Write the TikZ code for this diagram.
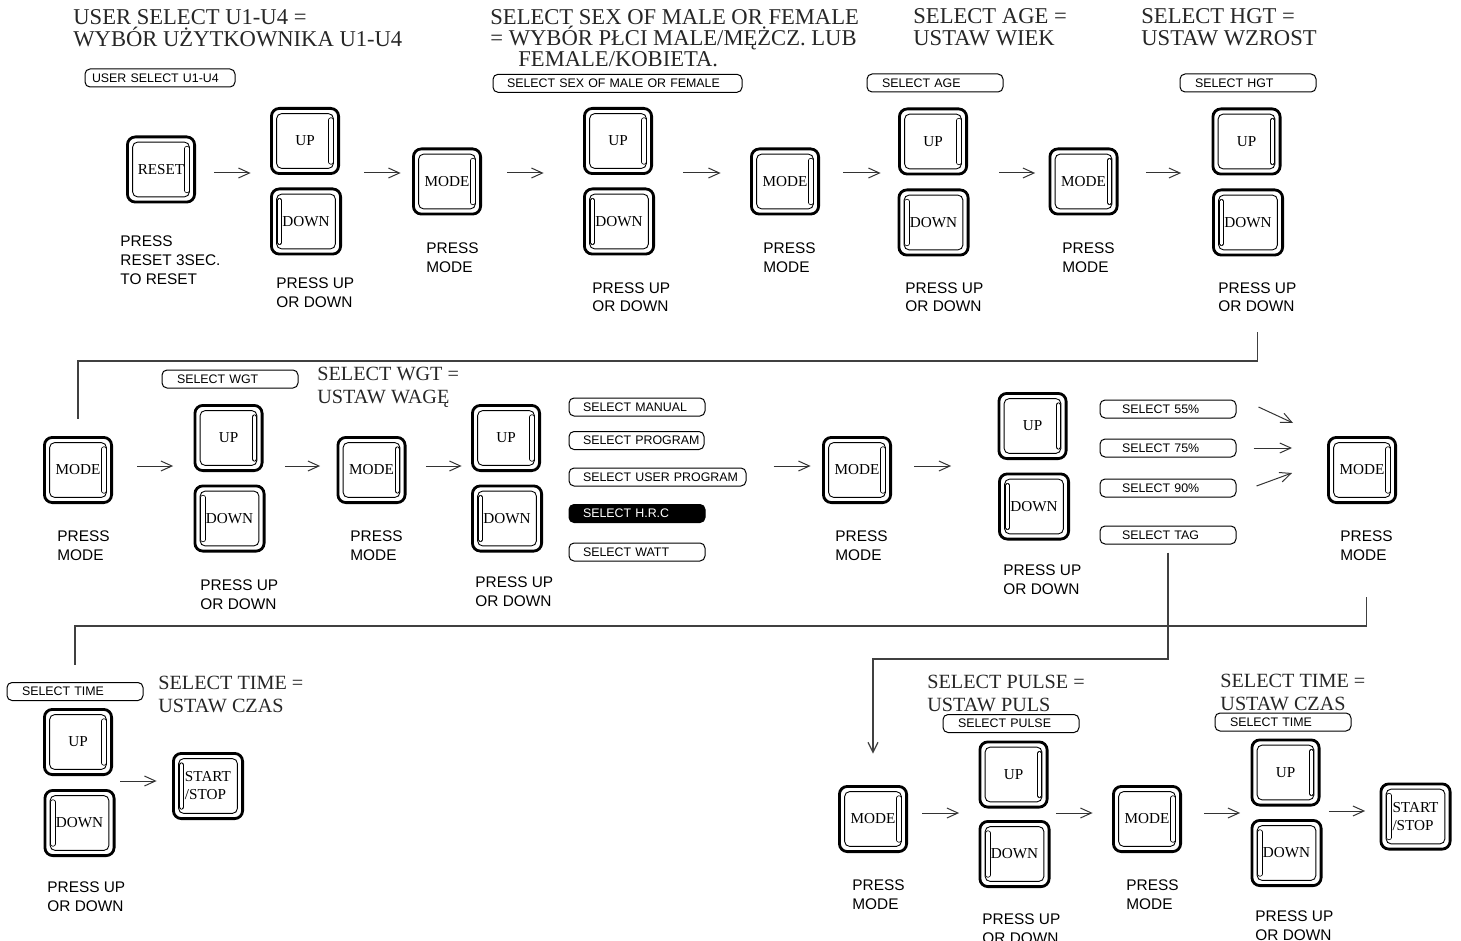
\documentclass[tikz,border=0pt]{standalone}
\usepackage{fontspec}
\setmainfont{Liberation Serif}
\setsansfont{Liberation Sans}
\usetikzlibrary{arrows.meta}
\newcommand{\titlefont}{\rmfamily\fontsize{11.3}{11}\selectfont}
\newcommand{\subtitlefont}{\rmfamily\fontsize{10.1}{11.5}\selectfont}
\newcommand{\notefont}{\sffamily\fontsize{7.7}{9.2}\selectfont}
\newcommand{\tagfont}{\sffamily\fontsize{6.2}{7}\selectfont}
\newcommand{\keyfont}{\rmfamily\fontsize{7.6}{9}\selectfont}
\newcommand{\keyframe}{\draw[line width=.45pt,rounded corners=2.5pt] ([shift={(2.6pt,2.6pt)}]path picture bounding box.south west) rectangle ([shift={(-2.6pt,-2.6pt)}]path picture bounding box.north east);}
\newcommand{\keyslot}[1]{\draw[line width=.4pt,double distance=1.8pt,line cap=round] ([shift={(#1,-10.5pt)}]path picture bounding box.center) -- ([shift={(#1,10.5pt)}]path picture bounding box.center);}
\begin{document}
\begin{tikzpicture}[x=.5pt,y=-.5pt]
      \tikzstyle{key}=[draw,line width=1.4pt,rounded corners=4pt,minimum width=33.6pt,minimum height=32.6pt,inner sep=0pt,align=center,font=\keyfont]
      \tikzstyle{keyR}=[key,path picture={\keyframe\keyslot{13pt}}]
      \tikzstyle{keyL}=[key,minimum width=34.6pt,path picture={\keyframe\keyslot{-13.25pt}}]
      \tikzstyle{tag}=[draw,line width=.5pt,rounded corners=2.5pt,minimum height=9pt,inner ysep=0pt,inner xsep=7.5pt,text width=53pt,align=left,font=\tagfont,execute at begin node=\hbox\bgroup,execute at end node=\egroup]
      \tikzstyle{head}=[anchor=base west,inner sep=0pt,align=left,font=\titlefont,text=black!85]
      \tikzstyle{subhead}=[head,font=\subtitlefont]
      \tikzstyle{note}=[anchor=base west,inner sep=0pt,align=left,font=\notefont]
      \tikzstyle{arr}=[draw=black!80,line width=.5pt,-{Straight Barb[length=5.5pt,width=5pt]}]
      \tikzstyle{link}=[draw=black!75,line width=.6pt]
      \useasboundingbox (0,0) rectangle (1461,941);
      \coordinate (ya) at (0,173);
      \coordinate (yb) at (0,466);
      \coordinate (yc) at (0,781);
      \coordinate (yd) at (0,813);
      \coordinate (ye) at (0,811);
      \node[head] (t1) at (73,47) {USER SELECT U1-U4 =\\WYBÓR UŻYTKOWNIKA U1-U4};
      \node[head,font=\rmfamily\fontsize{11.3}{10.7}\selectfont] (t2) at (490,67) {SELECT SEX OF MALE OR FEMALE\\= WYBÓR PŁCI MALE/MĘŻCZ. LUB\\\hspace*{14pt}FEMALE/KOBIETA.};
      \node[head] (t3) at (913,46) {SELECT AGE =\\USTAW WIEK};
      \node[head] (t4) at (1141,46) {SELECT HGT =\\USTAW WZROST};
      \node[subhead] (t5) at (317,403) {SELECT WGT =\\USTAW WAGĘ};
      \node[subhead] (t6) at (158,712) {SELECT TIME =\\USTAW CZAS};
      \node[subhead] (t7) at (927,711) {SELECT PULSE =\\USTAW PULS};
      \node[subhead] (t8) at (1220,710) {SELECT TIME =\\USTAW CZAS};
      \node[tag,text width=68pt,inner xsep=3.5pt] (su) at (160,78) {USER SELECT U1-U4};
      \node[tag,text width=110.5pt,inner xsep=7pt] (ss) at (617.5,83.3) {SELECT SEX OF MALE OR FEMALE};
      \node[tag] (sa) at (935,83) {SELECT AGE};
      \node[tag] (sh) at (1248,83) {SELECT HGT};
      \node[tag] (sw) at (230,379) {SELECT WGT};
      \node[tag,inner xsep=7pt,text width=54pt] (sman) at (637,407) {SELECT MANUAL};
      \node[tag,inner xsep=7pt,text width=53.5pt] (sprg) at (636.5,440.5) {SELECT PROGRAM};
      \node[tag,inner xsep=7pt,text width=74.5pt] (susr) at (657.5,477) {SELECT USER PROGRAM};
      \node[tag,inner xsep=7pt,text width=54pt,fill=black,text=white] (shrc) at (637,513.5) {SELECT H.R.C};
      \node[tag,inner xsep=7pt,text width=54pt] (swat) at (637,552) {SELECT WATT};
      \node[tag,inner xsep=11pt,text width=46pt] (s55) at (1168,409) {SELECT 55\%};
      \node[tag,inner xsep=11pt,text width=46pt] (s75) at (1168,448) {SELECT 75\%};
      \node[tag,inner xsep=11pt,text width=46pt] (s90) at (1168,488) {SELECT 90\%};
      \node[tag,inner xsep=11pt,text width=46pt] (stag) at (1168,535) {SELECT TAG};
      \node[tag] (stf) at (75,691.5) {SELECT TIME};
      \node[tag] (spl) at (1011,723.5) {SELECT PULSE};
      \node[tag] (sth) at (1283,722) {SELECT TIME};
      \node[keyR] (rs) at (161,169.5) {RESET};
      \node[keyR] (u1) at (305,141) {UP};
      \node[keyL] (d1) at (306,221.5) {DOWN};
      \node[keyR] (m1) at (447,181.5) {MODE};
      \node[keyR] (u2) at (618,141) {UP};
      \node[keyL] (d2) at (619,221.5) {DOWN};
      \node[keyR] (m2) at (785,181.5) {MODE};
      \node[keyR] (u3) at (933,141.5) {UP};
      \node[keyL] (d3) at (933.5,222.5) {DOWN};
      \node[keyR] (m3) at (1083.5,181.5) {MODE};
      \node[keyR] (u4) at (1246.5,141.5) {UP};
      \node[keyL] (d4) at (1248,222.5) {DOWN};
      \node[keyR] (ma) at (78,470) {MODE};
      \node[keyR] (ua) at (228.5,438) {UP};
      \node[keyL] (da) at (229.5,518.5) {DOWN};
      \node[keyR] (mb) at (371.5,470) {MODE};
      \node[keyR] (ub) at (506,438) {UP};
      \node[keyL] (db) at (507,518.5) {DOWN};
      \node[keyR] (mc) at (857,470) {MODE};
      \node[keyR] (ud) at (1032.5,426) {UP};
      \node[keyL] (dd) at (1034,506.5) {DOWN};
      \node[keyR] (me) at (1362,470) {MODE};
      \node[keyR] (uf) at (78,742) {UP};
      \node[keyL] (df) at (79.5,823) {DOWN};
      \node[keyL,align=left] (gof) at (208,786) {START\\/STOP};
      \node[keyR] (mg) at (873,819) {MODE};
      \node[keyR] (ug) at (1013.5,774.5) {UP};
      \node[keyL] (dg) at (1014.5,854) {DOWN};
      \node[keyR] (mh) at (1147,819) {MODE};
      \node[keyR] (uh) at (1285.5,772.5) {UP};
      \node[keyL] (dh) at (1286.5,853) {DOWN};
      \node[keyL,align=left] (goh) at (1415.5,816.5) {START\\/STOP};
      \node[note,font=\sffamily\fontsize{7.7}{9.5}\selectfont] (prs) at (120,285) {PRESS\\RESET 3SEC.\\TO RESET};
      \node[note] (p1) at (276,307) {PRESS UP\\OR DOWN};
      \node[note] (pm1) at (426,272) {PRESS\\MODE};
      \node[note] (p2) at (592,312) {PRESS UP\\OR DOWN};
      \node[note] (pm2) at (763,272) {PRESS\\MODE};
      \node[note] (p3) at (905,312) {PRESS UP\\OR DOWN};
      \node[note] (pm3) at (1062,272) {PRESS\\MODE};
      \node[note] (p4) at (1218,312) {PRESS UP\\OR DOWN};
      \node[note] (pma) at (57,560) {PRESS\\MODE};
      \node[note] (pa) at (200,609) {PRESS UP\\OR DOWN};
      \node[note] (pmb) at (350,560) {PRESS\\MODE};
      \node[note] (pb) at (475,606) {PRESS UP\\OR DOWN};
      \node[note] (pmc) at (835,560) {PRESS\\MODE};
      \node[note] (pd) at (1003,594) {PRESS UP\\OR DOWN};
      \node[note] (pme) at (1340,560) {PRESS\\MODE};
      \node[note] (pf) at (47,911) {PRESS UP\\OR DOWN};
      \node[note] (pmg) at (852,909) {PRESS\\MODE};
      \node[note] (pg) at (982,943) {PRESS UP\\OR DOWN};
      \node[note] (pmh) at (1126,909) {PRESS\\MODE};
      \node[note] (ph) at (1255,940) {PRESS UP\\OR DOWN};
      \draw[arr,shorten <=9.2pt,shorten >=9.7pt] (rs.east |- ya) -- (u1.west |- ya);
      \draw[arr,shorten <=12.2pt,shorten >=5.7pt] (u1.east |- ya) -- (m1.west |- ya);
      \draw[arr,shorten <=12.7pt,shorten >=19.7pt] (m1.east |- ya) -- (u2.west |- ya);
      \draw[arr,shorten <=15.2pt,shorten >=14.7pt] (u2.east |- ya) -- (m2.west |- ya);
      \draw[arr,shorten <=11.7pt,shorten >=8.7pt] (m2.east |- ya) -- (u3.west |- ya);
      \draw[arr,shorten <=15.7pt,shorten >=6.7pt] (u3.east |- ya) -- (m3.west |- ya);
      \draw[arr,shorten <=13.7pt,shorten >=15.2pt] (m3.east |- ya) -- (u4.west |- ya);
      \draw[arr,shorten <=12.2pt,shorten >=10.2pt] (ma.east |- yb) -- (ua.west |- yb);
      \draw[arr,shorten <=10.7pt,shorten >=8.2pt] (ua.east |- yb) -- (mb.west |- yb);
      \draw[arr,shorten <=9.7pt,shorten >=4.7pt] (mb.east |- yb) -- (ub.west |- yb);
      \draw[arr,shorten <=13.5pt,shorten >=5.7pt] (susr.east |- yb) -- (mc.west |- yb);
      \draw[arr,shorten <=11.2pt,shorten >=23.2pt] (mc.east |- yb) -- (ud.west |- yb);
      \draw[arr] ([shift={(22,-2)}]s55.east) -- ([shift={(-34,-47)}]me.west);
      \draw[arr] ([shift={(17,0)}]s75.east) -- ([shift={(-35,-22)}]me.west);
      \draw[arr] ([shift={(20,-2)}]s90.east) -- ([shift={(-35,3)}]me.west);
      \draw[arr,shorten <=3.7pt,shorten >=7.7pt] (uf.east |- yc) -- (gof.west |- yc);
      \draw[arr,shorten <=7.2pt,shorten >=9.7pt] (mg.east |- yd) -- (ug.west |- yd);
      \draw[arr,shorten <=3.7pt,shorten >=9.7pt] (ug.east |- yd) -- (mh.west |- yd);
      \draw[arr,shorten <=11.2pt,shorten >=5.2pt] (mh.east |- yd) -- (uh.west |- yd);
      \draw[arr,shorten <=4.2pt,shorten >=7.2pt] (uh.east |- ye) -- (goh.west |- ye);
      \coordinate (b1) at (78,361);
      \coordinate (b2) at (75,626);
      \coordinate (b3) at (873,659);
      \draw[link,shorten <=9.8pt,shorten >=8.7pt] (p4.south) |- (b1) -- (ma.north);
      \draw[link,shorten <=18.3pt,shorten >=8.5pt] (pme.south) |- (b2) -- (stf.north);
      \draw[link,-{Straight Barb[length=5pt,width=5pt]},shorten <=4pt,shorten >=15.7pt] (stag.south) |- (b3) -- (mg.north);
\end{tikzpicture}
\end{document}
